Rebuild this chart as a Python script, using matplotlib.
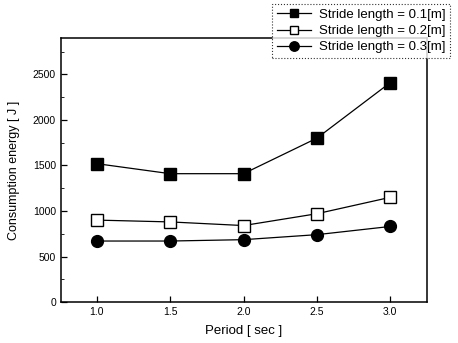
import matplotlib
matplotlib.use("Agg")
from matplotlib import pyplot as plt
from matplotlib.ticker import MultipleLocator

plt.rcParams['font.family'] = ['Liberation Sans', 'DejaVu Sans']

period = [1.0, 1.5, 2.0, 2.5, 3.0]
energy_01 = [1520, 1410, 1410, 1800, 2410]
energy_02 = [900, 880, 840, 970, 1150]
energy_03 = [670, 670, 685, 740, 830]

fig = plt.figure(figsize=(4.58, 3.43), dpi=100)
ax = fig.add_axes([0.133, 0.1195, 0.799, 0.7695])

ax.plot(period, energy_01, '-s', color='black', lw=0.9, ms=8,
        mfc='black', label='Stride length = 0.1[m]')
ax.plot(period, energy_02, '-s', color='black', lw=0.9, ms=8,
        mfc='white', label='Stride length = 0.2[m]')
ax.plot(period, energy_03, '-o', color='black', lw=0.9, ms=8.5,
        mfc='black', label='Stride length = 0.3[m]')

ax.set_xlim(0.755, 3.25)
ax.set_ylim(0, 2900)
ax.set_xticks(period)
ax.set_xticklabels(['1.0', '1.5', '2.0', '2.5', '3.0'])
ax.yaxis.set_major_locator(MultipleLocator(500))
ax.yaxis.set_minor_locator(MultipleLocator(250))
ax.tick_params(direction='in', labelsize=7.5, length=4, width=0.9)
ax.tick_params(which='minor', direction='in', length=2)
for s in ax.spines.values():
    s.set_linewidth(1.1)

ax.set_xlabel('Period [ sec ]', fontsize=9.5, labelpad=6)
ax.set_ylabel('Consumption energy [ J ]', fontsize=9, labelpad=9)

leg = fig.legend(loc='upper right', bbox_to_anchor=(0.983, 0.988),
                 fontsize=9.5, frameon=True, fancybox=False,
                 handlelength=2.6, borderpad=0.35, labelspacing=0.3,
                 handletextpad=0.6, borderaxespad=0, markerscale=0.8)
leg.get_frame().set_edgecolor('black')
leg.get_frame().set_linestyle(':')
leg.get_frame().set_linewidth(0.8)

fig.savefig('out.png', dpi=100)
